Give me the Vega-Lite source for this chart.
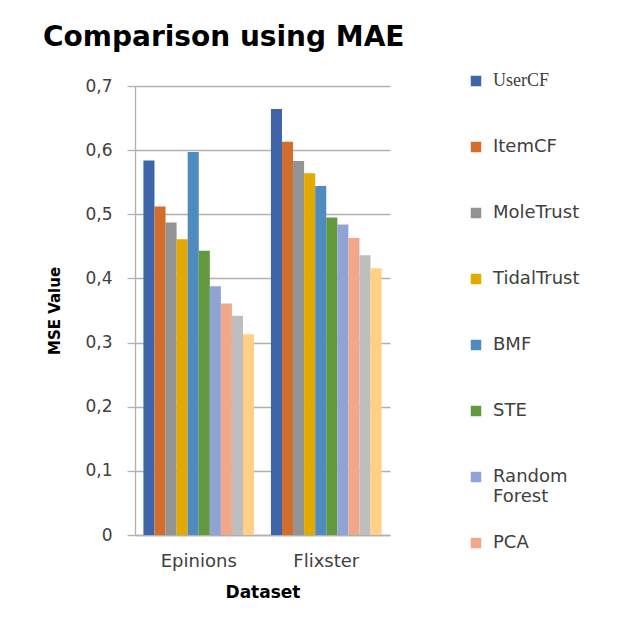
{
  "$schema": "https://vega.github.io/schema/vega-lite/v6.json",
  "autosize": {"type": "none"},
  "width": 255,
  "height": 449,
  "padding": {"left": 135, "top": 86, "right": 243, "bottom": 86},
  "background": "white",
  "title": {
    "text": "Comparison using MAE",
    "anchor": "start",
    "frame": "group",
    "font": "DejaVu Sans",
    "fontSize": 28,
    "fontWeight": "bold",
    "color": "#000000",
    "baseline": "alphabetic",
    "offset": -2,
    "dx": -92
  },
  "data": {
    "values": [
      {"dataset": "Epinions", "method": "UserCF", "value": 0.584},
      {"dataset": "Epinions", "method": "ItemCF", "value": 0.512},
      {"dataset": "Epinions", "method": "MoleTrust", "value": 0.487},
      {"dataset": "Epinions", "method": "TidalTrust", "value": 0.461},
      {"dataset": "Epinions", "method": "BMF", "value": 0.597},
      {"dataset": "Epinions", "method": "STE", "value": 0.443},
      {"dataset": "Epinions", "method": "Random Forest", "value": 0.388},
      {"dataset": "Epinions", "method": "PCA", "value": 0.361},
      {"dataset": "Epinions", "method": "SVD", "value": 0.342},
      {"dataset": "Epinions", "method": "Proposed", "value": 0.313},
      {"dataset": "Flixster", "method": "UserCF", "value": 0.664},
      {"dataset": "Flixster", "method": "ItemCF", "value": 0.613},
      {"dataset": "Flixster", "method": "MoleTrust", "value": 0.583},
      {"dataset": "Flixster", "method": "TidalTrust", "value": 0.564},
      {"dataset": "Flixster", "method": "BMF", "value": 0.544},
      {"dataset": "Flixster", "method": "STE", "value": 0.495},
      {"dataset": "Flixster", "method": "Random Forest", "value": 0.484},
      {"dataset": "Flixster", "method": "PCA", "value": 0.463},
      {"dataset": "Flixster", "method": "SVD", "value": 0.436},
      {"dataset": "Flixster", "method": "Proposed", "value": 0.416}
    ]
  },
  "mark": {"type": "bar"},
  "encoding": {
    "x": {
      "field": "dataset",
      "type": "nominal",
      "sort": ["Epinions", "Flixster"],
      "title": "Dataset",
      "scale": {"paddingInner": 0.132, "paddingOuter": 0.066},
      "axis": {
        "labelAngle": 0,
        "ticks": false,
        "domainColor": "#B0B0B0",
        "domainWidth": 1.3,
        "labelFont": "DejaVu Sans",
        "labelFontSize": 18,
        "labelColor": "#404040",
        "labelPadding": 17,
        "titleFont": "DejaVu Sans",
        "titleFontSize": 17,
        "titleFontWeight": "bold",
        "titleColor": "#000000",
        "titlePadding": 14
      }
    },
    "xOffset": {
      "field": "method",
      "type": "nominal",
      "sort": ["UserCF", "ItemCF", "MoleTrust", "TidalTrust", "BMF", "STE", "Random Forest", "PCA", "SVD", "Proposed"],
      "scale": {"paddingInner": 0, "paddingOuter": 0}
    },
    "y": {
      "field": "value",
      "type": "quantitative",
      "title": "MSE Value",
      "scale": {"domain": [0, 0.7], "nice": false},
      "axis": {
        "values": [0, 0.1, 0.2, 0.3, 0.4, 0.5, 0.6, 0.7],
        "labelExpr": "datum.value == 0 ? '0' : replace(format(datum.value, '.1f'), '.', ',')",
        "gridColor": "#B0B0B0",
        "gridWidth": 1.3,
        "domainColor": "#B0B0B0",
        "domainWidth": 1.3,
        "tickColor": "#B0B0B0",
        "tickWidth": 1.3,
        "tickSize": 8,
        "labelPadding": 15,
        "labelFont": "DejaVu Sans",
        "labelFontSize": 17,
        "labelColor": "#404040",
        "titleFont": "DejaVu Sans",
        "titleFontSize": 15,
        "titleFontWeight": "bold",
        "titleColor": "#000000",
        "titlePadding": 22
      }
    },
    "color": {
      "field": "method",
      "type": "nominal",
      "scale": {
        "domain": ["UserCF", "ItemCF", "MoleTrust", "TidalTrust", "BMF", "STE", "Random Forest", "PCA", "SVD", "Proposed"],
        "range": ["#3E64AA", "#D26E2C", "#939393", "#E2AA00", "#4F8BBE", "#62993F", "#8FA3D5", "#F1A78A", "#BEBEBE", "#FFD085"]
      },
      "legend": {
        "orient": "none",
        "legendX": 332,
        "legendY": -14,
        "title": null,
        "padding": 0,
        "values": ["UserCF", "ItemCF", "MoleTrust", "TidalTrust", "BMF", "STE", "Random Forest", "PCA"],
        "symbolType": "square",
        "symbolSize": 110,
        "symbolStrokeWidth": 0,
        "labelFont": "DejaVu Sans",
        "labelFontSize": 18,
        "labelColor": "#404040",
        "labelOffset": 8,
        "labelLimit": 200,
        "rowPadding": 28,
        "gridAlign": "all",
        "labelExpr": "datum.label == 'Random Forest' ? ['Random', 'Forest'] : datum.label",
        "encode": {
          "labels": {
            "update": {
              "font": {"signal": "datum.label == 'UserCF' ? 'Liberation Serif' : 'DejaVu Sans'"}
            }
          }
        }
      }
    }
  },
  "config": {"view": {"stroke": null}}
}
